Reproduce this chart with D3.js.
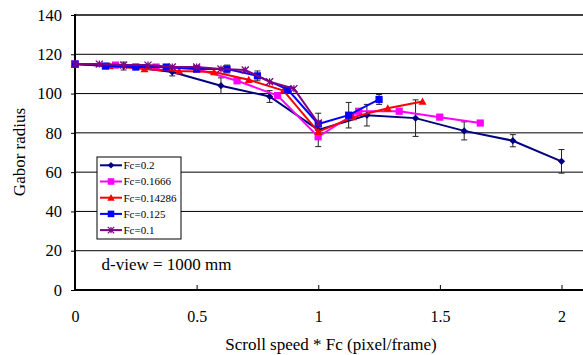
<!DOCTYPE html>
<html>
<head>
<meta charset="utf-8">
<script src="https://cdn.jsdelivr.net/npm/d3@7"></script>
<style>
  body { margin: 0; background: #fff; }
  svg { display: block; font-family: "Liberation Serif", "Times New Roman", serif; }
</style>
</head>
<body>
<div id="chart"></div>
<script>

// series values
var names = ["Fc=0.2", "Fc=0.1666", "Fc=0.14286", "Fc=0.125", "Fc=0.1"];

var x02 = [0, 0.2, 0.4, 0.6, 0.8, 1.0, 1.2, 1.4, 1.6, 1.8, 2.0];
var y02 = [115, 114, 111, 104, 98.5, 81.5, 89, 87.5, 81, 76, 65.5];
var e02 = [0, 2, 2, 4, 3, 8.5, 5.5, 9.3, 4.6, 3.1, 6];

var x01666 = [0, 0.1666, 0.3332, 0.4998, 0.6664, 0.833, 0.9996, 1.1662, 1.3328, 1.4994, 1.666];
var y01666 = [115, 114.5, 113.5, 112.5, 106.5, 99, 78, 91, 91, 88, 85];

var x014286 = [0, 0.14286, 0.28572, 0.42858, 0.57144, 0.7143, 0.85716, 1.00002, 1.14288, 1.28574, 1.4286];
var y014286 = [115, 114, 112.5, 111.5, 111, 107, 101.5, 80.5, 88, 92.5, 96];

var x0125 = [0, 0.125, 0.25, 0.375, 0.5, 0.625, 0.75, 0.875, 1.0, 1.125, 1.25];
var y0125 = [115, 114, 113.5, 113.5, 112.5, 112.5, 109, 102, 84.5, 89, 97];
var e0125 = [0, 0, 0, 0, 0, 2, 2.5, 0, 0, 6.5, 2.5];

var x01 = [0, 0.1, 0.2, 0.3, 0.4, 0.5, 0.6, 0.7, 0.8, 0.9, 1.0];
var y01 = [115, 115, 114.5, 114.5, 113.5, 113.5, 112.5, 112, 106, 102.5, 85];

var xTicks = [0, 0.5, 1, 1.5, 2];
var yTicks = [0, 20, 40, 60, 80, 100, 120, 140];

var width = 583,
    height = 355;

var x = d3.scaleLinear().domain([0, 2]).range([75, 561.5]);
var y = d3.scaleLinear().domain([0, 140]).range([290, 15]);

var svg = d3.select('#chart').append('svg')
    .attr('width', width)
    .attr('height', height);

// marker shapes
var marker = function(type, r) {
  if (type == 'diamond')
    return 'M0,' + (-r) + 'L' + r + ',0L0,' + r + 'L' + (-r) + ',0Z';
  if (type == 'square')
    return 'M' + (-r) + ',' + (-r) + 'h' + (2 * r) + 'v' + (2 * r) + 'h' + (-2 * r) + 'Z';
  if (type == 'triangle')
    return 'M0,' + (-r) + 'L' + r + ',' + (r * 0.8) + 'L' + (-r) + ',' + (r * 0.8) + 'Z';
  // star: asterisk
  return 'M' + (-r) + ',' + (-r) + 'L' + r + ',' + r + 'M' + (-r) + ',' + r + 'L' + r + ',' + (-r) +
         'M0,' + (-r) + 'L0,' + r;
};

var series = [
  { name: names[0], xs: x02, ys: y02, err: e02, color: '#000080', shape: 'diamond', r: 3.6 },
  { name: names[1], xs: x01666, ys: y01666, err: null, color: '#ff00ff', shape: 'square', r: 3.6 },
  { name: names[2], xs: x014286, ys: y014286, err: null, color: '#ff0000', shape: 'triangle', r: 4 },
  { name: names[3], xs: x0125, ys: y0125, err: e0125, color: '#0000ff', shape: 'square', r: 3.6 },
  { name: names[4], xs: x01, ys: y01, err: null, color: '#800080', shape: 'star', r: 3.5 }
];

// gridlines
svg.append('g').selectAll('line')
  .data(yTicks.slice(1))
  .enter().append('line')
    .attr('x1', 75).attr('x2', width)
    .attr('y1', function(d) { return y(d); })
    .attr('y2', function(d) { return y(d); })
    .style('stroke', '#000')
    .style('stroke-width', function(d) { return d == 140 ? 1.6 : 1; });

// y axis
var yAxis = svg.append('g')
    .attr('transform', 'translate(75,0)')
    .call(d3.axisLeft(y).tickValues(yTicks).tickSize(4).tickPadding(9));
yAxis.select('.domain').remove();
yAxis.selectAll('line').style('stroke', '#000');
yAxis.selectAll('text').style('font-size', '16.5px').style('font-family', 'Liberation Serif').attr('fill', '#000');

// x axis, ticks pointing inside
var xAxis = svg.append('g')
    .attr('transform', 'translate(0,290)')
    .call(d3.axisBottom(x).tickValues(xTicks).tickSize(-5).tickPadding(21).tickFormat(d3.format('')));
xAxis.select('.domain').remove();
xAxis.selectAll('line').style('stroke', '#000');
xAxis.selectAll('text').style('font-size', '16px').style('font-family', 'Liberation Serif').attr('fill', '#000');

svg.append('line')
    .attr('x1', 75).attr('x2', width).attr('y1', 290).attr('y2', 290)
    .style('stroke', '#000').style('stroke-width', 2);
svg.append('line')
    .attr('x1', 75).attr('x2', 75).attr('y1', 14).attr('y2', 291)
    .style('stroke', '#000').style('stroke-width', 2);

// series
var line = d3.line()
    .x(function(d) { return x(d[0]); })
    .y(function(d) { return y(d[1]); });

series.forEach(function(s) {
  var pts = s.xs.map(function(v, i) { return [v, s.ys[i], s.err ? s.err[i] : 0]; });
  var g = svg.append('g');

  g.append('path')
    .datum(pts)
    .attr('d', line)
    .style('fill', 'none')
    .style('stroke', s.color)
    .style('stroke-width', 2);

  // error bars
  var eb = g.selectAll('.err')
    .data(pts.filter(function(d) { return d[2] > 0; }))
    .enter().append('g')
      .attr('class', 'err');
  eb.append('line')
    .attr('x1', function(d) { return x(d[0]); })
    .attr('x2', function(d) { return x(d[0]); })
    .attr('y1', function(d) { return y(d[1] + d[2]); })
    .attr('y2', function(d) { return y(d[1] - d[2]); });
  [1, -1].forEach(function(k) {
    eb.append('line')
      .attr('x1', function(d) { return x(d[0]) - 3; })
      .attr('x2', function(d) { return x(d[0]) + 3; })
      .attr('y1', function(d) { return y(d[1] + k * d[2]); })
      .attr('y2', function(d) { return y(d[1] + k * d[2]); });
  });
  eb.selectAll('line').style('stroke', '#222').style('stroke-width', 1);

  g.selectAll('.pt')
    .data(pts)
    .enter().append('path')
      .attr('class', 'pt')
      .attr('transform', function(d) { return 'translate(' + x(d[0]) + ',' + y(d[1]) + ')'; })
      .attr('d', marker(s.shape, s.r))
      .style('fill', s.shape == 'star' ? 'none' : s.color)
      .style('stroke', s.color)
      .style('stroke-width', s.shape == 'star' ? 1.3 : 0);
});

// legend
var legend = svg.append('g');
legend.append('rect')
    .attr('x', 97).attr('y', 157)
    .attr('width', 84).attr('height', 82)
    .style('fill', '#fff')
    .style('stroke', '#000')
    .style('stroke-width', 1);

var item = legend.selectAll('.item')
    .data(series)
    .enter().append('g')
      .attr('class', 'item')
      .attr('transform', function(d, i) { return 'translate(0,' + (165.3 + i * 16.2) + ')'; });
item.append('line')
    .attr('x1', 100).attr('x2', 122)
    .style('stroke', function(d) { return d.color; })
    .style('stroke-width', 2);
item.append('path')
    .attr('transform', 'translate(111,0)')
    .attr('d', function(d) { return marker(d.shape, d.r - 0.3); })
    .style('fill', function(d) { return d.shape == 'star' ? 'none' : d.color; })
    .style('stroke', function(d) { return d.color; })
    .style('stroke-width', function(d) { return d.shape == 'star' ? 1.2 : 0; });
item.append('text')
    .attr('x', 123.5)
    .attr('dy', '0.35em')
    .style('font-size', '11px')
    .text(function(d) { return d.name; });

// annotation and titles
svg.append('text')
    .attr('x', 101.5).attr('y', 270)
    .style('font-size', '17px')
    .text('d-view = 1000 mm');

svg.append('text')
    .attr('x', 331).attr('y', 350)
    .attr('text-anchor', 'middle')
    .style('font-size', '17px')
    .text('Scroll speed * Fc (pixel/frame)');

svg.append('text')
    .attr('transform', 'translate(25,152) rotate(-90)')
    .attr('text-anchor', 'middle')
    .style('font-size', '17px')
    .text('Gabor radius');

</script>
</body>
</html>
